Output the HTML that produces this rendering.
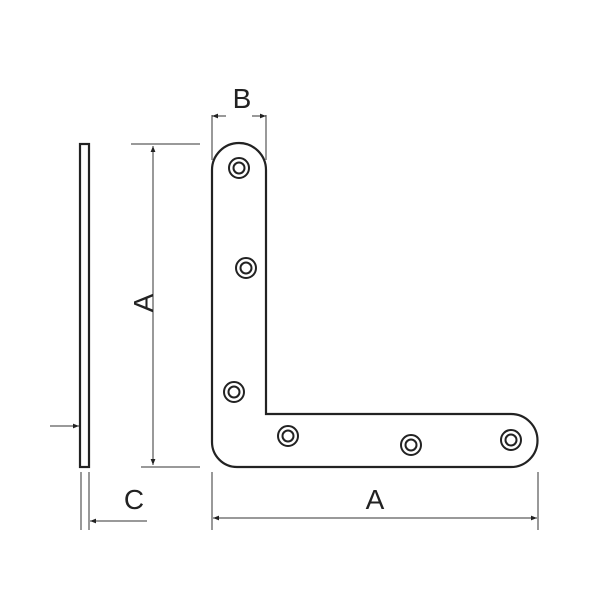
<!DOCTYPE html>
<html><head><style>body{margin:0;background:#fff}</style></head><body>
<svg width="600" height="600" viewBox="0 0 600 600" xmlns="http://www.w3.org/2000/svg">
<defs>
<marker id="ar" viewBox="0 0 10 10" refX="10" refY="5" markerWidth="8" markerHeight="6" orient="auto-start-reverse" markerUnits="userSpaceOnUse"><path d="M0,1 L10,5 L0,9 z" fill="#222"/></marker>
</defs>
<g fill="none" stroke="#222" stroke-width="2.2">
<path d="M212,170 A27,27 0 0 1 266,170 L266,414 L511,414 A26.5,26.5 0 0 1 511,467 L237,467 A25,25 0 0 1 212,442 Z"/>
<rect x="80" y="144" width="9" height="323"/>
</g>
<g fill="none" stroke="#222" stroke-width="2">
<circle cx="239" cy="168" r="10"/><circle cx="239" cy="168" r="5.5"/>
<circle cx="246" cy="268" r="10"/><circle cx="246" cy="268" r="5.5"/>
<circle cx="234" cy="392" r="10"/><circle cx="234" cy="392" r="5.5"/>
<circle cx="288" cy="436" r="10"/><circle cx="288" cy="436" r="5.5"/>
<circle cx="411" cy="445" r="10"/><circle cx="411" cy="445" r="5.5"/>
<circle cx="511" cy="440" r="10"/><circle cx="511" cy="440" r="5.5"/>
</g>
<g stroke="#333" stroke-width="1" fill="none">
<line x1="131" y1="144" x2="200" y2="144"/>
<line x1="141" y1="467" x2="200" y2="467"/>
<line x1="153" y1="146" x2="153" y2="465" marker-start="url(#ar)" marker-end="url(#ar)"/>
<line x1="212" y1="115" x2="212" y2="160"/>
<line x1="266" y1="115" x2="266" y2="160"/>
<line x1="212" y1="116" x2="226" y2="116" marker-start="url(#ar)"/>
<line x1="252" y1="116" x2="266" y2="116" marker-end="url(#ar)"/>
<line x1="212" y1="472" x2="212" y2="530"/>
<line x1="538" y1="472" x2="538" y2="530"/>
<line x1="213" y1="518" x2="537" y2="518" marker-start="url(#ar)" marker-end="url(#ar)"/>
<line x1="81" y1="472" x2="81" y2="530"/>
<line x1="89" y1="472" x2="89" y2="530"/>
<line x1="147" y1="521" x2="90" y2="521" marker-end="url(#ar)"/>
<line x1="50" y1="426" x2="79" y2="426" marker-end="url(#ar)"/>
</g>
<g font-family="Liberation Sans, sans-serif" font-size="28" fill="#222" text-anchor="middle">
<text x="242" y="108">B</text>
<text x="375" y="509">A</text>
<text x="134" y="509">C</text>
<text x="0" y="0" transform="translate(153,303) rotate(-90)">A</text>
</g>
</svg>
</body></html>
